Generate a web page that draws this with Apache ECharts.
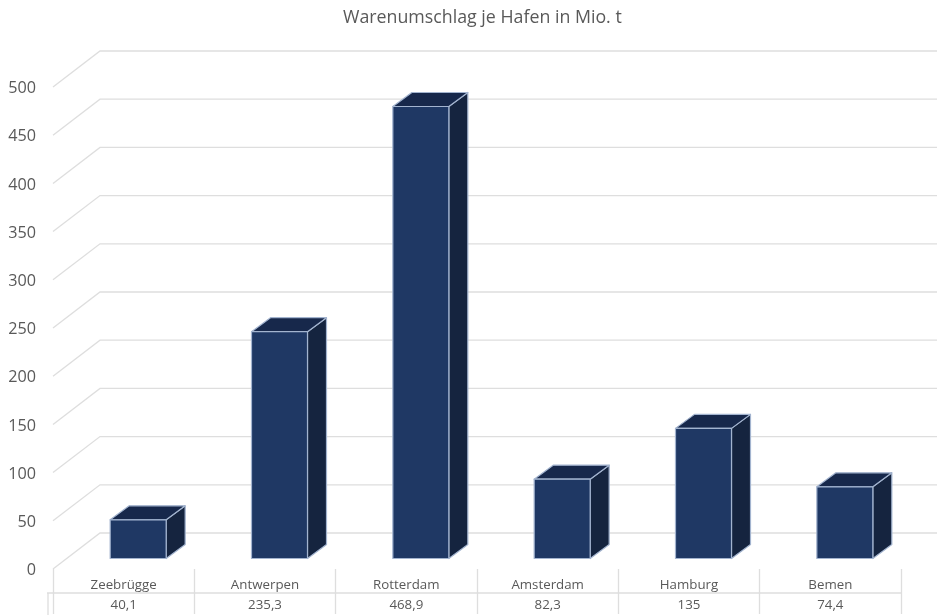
<!DOCTYPE html>
<html>
<head>
<meta charset="utf-8">
<style>html,body{margin:0;padding:0;background:#fff}#chart{width:937px;height:615px}</style>
<script src="https://cdn.jsdelivr.net/npm/echarts@6/dist/echarts.min.js"></script>
</head>
<body>
<div id="chart"></div>
<script>
const ports = ['Zeebrügge', 'Antwerpen', 'Rotterdam', 'Amsterdam', 'Hamburg', 'Bemen'];
const tonnage = [40.1, 235.3, 468.9, 82.3, 135, 74.4];
const yTicks = [0, 50, 100, 150, 200, 250, 300, 350, 400, 450, 500];

const TEXT = '#595959';
const RULE = '#dedede';
const FONT = '"Open Sans", "Noto Sans", sans-serif';

// Depth of the chart floor, and where a bar sits within it
const WALL_DX = 47, WALL_DY = -36;
const BAR_DX = 14.5, BAR_DY = -10.5;
const SIDE_DX = 19, SIDE_DY = -14;
const BAR_WIDTH = 56;

// One grey rule per tick: a diagonal on the side wall, then across the back wall
function renderWall(params, api) {
  const y = api.coord([0, api.value(1)])[1];
  const left = params.coordSys.x;
  return {
    type: 'polyline',
    silent: true,
    shape: { points: [[left, y], [left + WALL_DX, y + WALL_DY], [937, y + WALL_DY]] },
    style: { fill: null, stroke: RULE, lineWidth: 1.3 }
  };
}

// Pseudo-3D column built from its front, top and side faces
function renderBar(params, api) {
  const top = api.coord([api.value(0), api.value(1)]);
  const base = api.coord([api.value(0), 0]);
  const l = top[0] + BAR_DX - BAR_WIDTH / 2;
  const r = l + BAR_WIDTH;
  const t = top[1] + BAR_DY;
  const b = base[1] + BAR_DY;
  const edge = { stroke: '#a3b4cf', lineWidth: 1.2, lineJoin: 'round' };
  const face = (points, fill) => ({
    type: 'polygon',
    shape: { points },
    style: Object.assign({ fill }, edge)
  });
  return {
    type: 'group',
    children: [
      face([[r, t], [r + SIDE_DX, t + SIDE_DY], [r + SIDE_DX, b + SIDE_DY], [r, b]], '#15243f'),
      face([[l, t], [l + SIDE_DX, t + SIDE_DY], [r + SIDE_DX, t + SIDE_DY], [r, t]], '#17284b'),
      face([[l, t], [r, t], [r, b], [l, b]], '#1f3864')
    ]
  };
}

const chart = echarts.init(document.getElementById('chart'));
chart.setOption({
  animation: false,
  backgroundColor: '#fff',
  textStyle: { fontFamily: FONT },
  title: {
    text: 'Warenumschlag je Hafen in Mio. t',
    left: 338,
    top: 4,
    textStyle: { color: TEXT, fontSize: 17.8, fontWeight: 'normal', fontFamily: FONT }
  },
  grid: { left: 53, right: 36, top: 87, bottom: 45 },
  xAxis: {
    type: 'category',
    data: ports,
    axisLine: { show: false },
    axisTick: { show: true, alignWithLabel: false, length: 45, lineStyle: { color: RULE, width: 1.3 } },
    axisLabel: {
      interval: 0,
      margin: 6,
      color: TEXT,
      fontSize: 13.3,
      lineHeight: 20,
      fontFamily: FONT,
      formatter: (name, i) => name + '\n' + String(tonnage[i]).replace('.', ',')
    }
  },
  yAxis: {
    type: 'value',
    min: 0,
    max: 500,
    interval: 50,
    splitLine: { show: false },
    axisLine: { show: false },
    axisTick: { show: false },
    axisLabel: {
      color: TEXT,
      fontSize: 16.2,
      margin: 17,
      verticalAlign: 'top',
      lineHeight: 3,
      fontFamily: FONT
    }
  },
  // Horizontal rule of the data table and its left cap
  graphic: [
    { type: 'line', silent: true, shape: { x1: 47, y1: 593, x2: 901, y2: 593 }, style: { stroke: RULE, lineWidth: 1.3 } },
    { type: 'line', silent: true, shape: { x1: 48, y1: 593, x2: 48, y2: 615 }, style: { stroke: RULE, lineWidth: 1.3 } }
  ],
  series: [
    {
      type: 'custom',
      name: 'Raster',
      z: 1,
      silent: true,
      clip: false,
      renderItem: renderWall,
      encode: { x: 0, y: 1 },
      data: yTicks.map(v => [0, v])
    },
    {
      type: 'custom',
      name: 'Warenumschlag',
      z: 2,
      clip: false,
      renderItem: renderBar,
      encode: { x: 0, y: 1 },
      data: tonnage.map((v, i) => [i, v])
    }
  ]
});
</script>
</body>
</html>
